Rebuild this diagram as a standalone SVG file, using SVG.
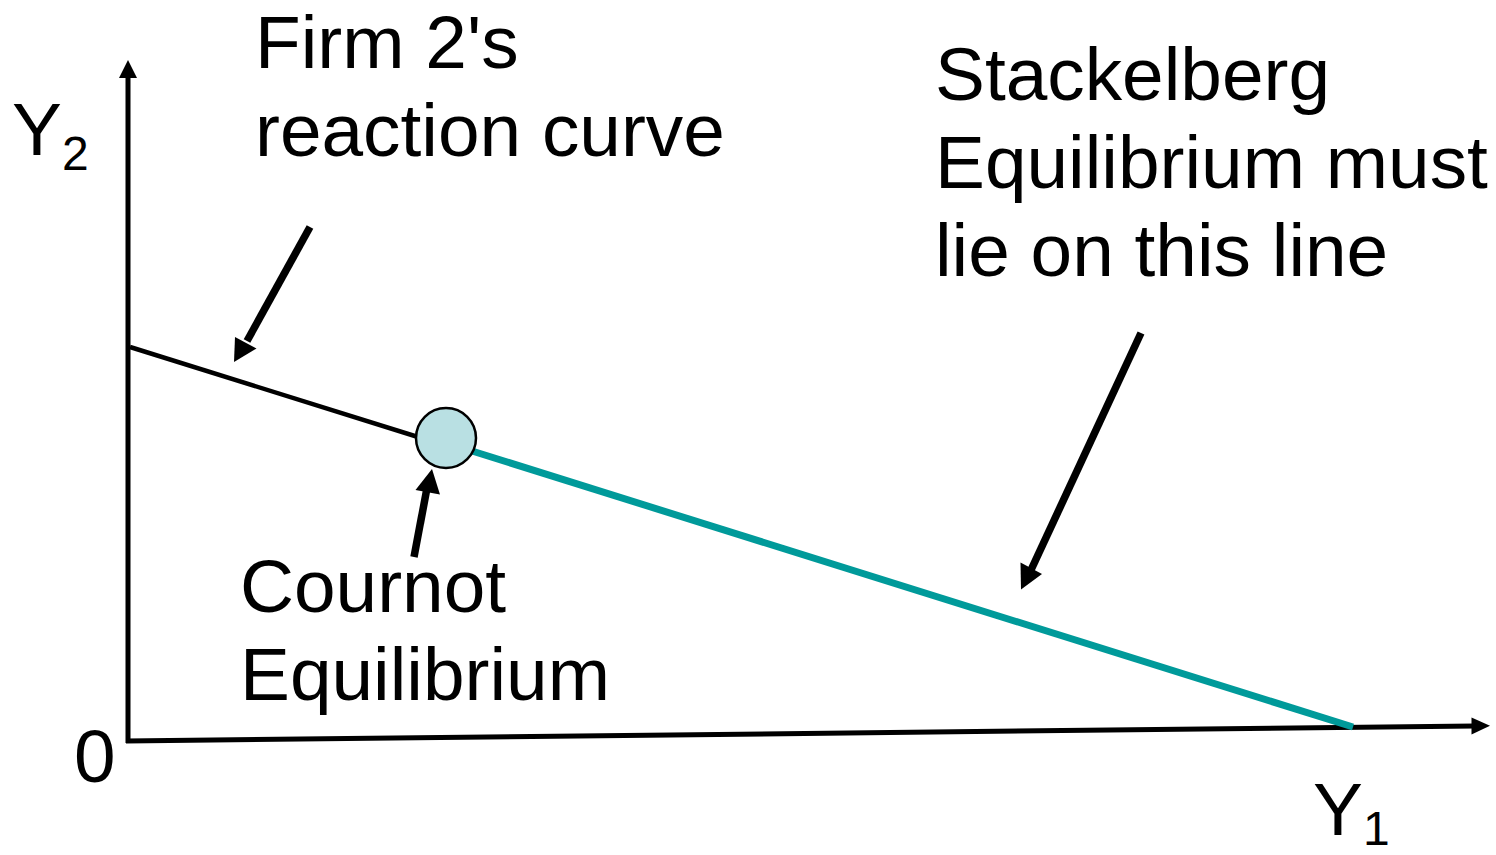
<svg xmlns="http://www.w3.org/2000/svg" width="1496" height="855" viewBox="0 0 1496 855">
<style>
.t{font-family:"Liberation Sans",Arial,sans-serif;font-size:74.8px;fill:#000}
.s{font-size:48px}
.ar{stroke:#000;stroke-width:7.5;fill:none}
.hd{fill:#000;stroke:none}
</style>
<rect width="1496" height="855" fill="#fff"/>
<g id="axes">
<line x1="128" y1="743" x2="128" y2="74" stroke="#000" stroke-width="5"/>
<path class="hd" d="M128,60 L137,78 L119,78 Z"/>
<line x1="126" y1="741" x2="1475" y2="726" stroke="#000" stroke-width="5"/>
<path class="hd" d="M1490,725.8 L1471.5,734.5 L1471.5,717.5 Z"/>
</g>
<g id="reaction-curve">
<line x1="130" y1="347" x2="418" y2="437" stroke="#000" stroke-width="4.5"/>
</g>
<g id="stackelberg-line">
<line x1="472" y1="451" x2="1353" y2="727" stroke="#009a9a" stroke-width="7"/>
</g>
<g id="cournot-point">
<circle cx="446" cy="438" r="30" fill="#b9e0e3" stroke="#000" stroke-width="2.5"/>
</g>
<g id="connectors">
<line class="ar" x1="310" y1="227" x2="247" y2="341"/>
<path class="hd" d="M234,362 L235,337 L256.5,348.5 Z"/>
<line class="ar" x1="414" y1="557" x2="427" y2="488"/>
<path class="hd" d="M432,469 L440,494.5 L415.5,490 Z"/>
<line class="ar" x1="1141" y1="333" x2="1031" y2="570"/>
<path class="hd" d="M1021,589.5 L1020.5,562.5 L1042,574 Z"/>
</g>
<g id="labels">
<text class="t" x="12" y="155">Y<tspan class="s" dy="15">2</tspan></text>
<text class="t" x="74" y="782">0</text>
<text class="t" x="1313" y="835">Y<tspan class="s" dy="10">1</tspan></text>
<text class="t" x="255" y="68">Firm 2's</text>
<text class="t" x="255" y="156">reaction curve</text>
<text class="t" x="935" y="100">Stackelberg</text>
<text class="t" x="935" y="188">Equilibrium must</text>
<text class="t" x="935" y="276">lie on this line</text>
<text class="t" x="240" y="612">Cournot</text>
<text class="t" x="240" y="700">Equilibrium</text>
</g>
</svg>
